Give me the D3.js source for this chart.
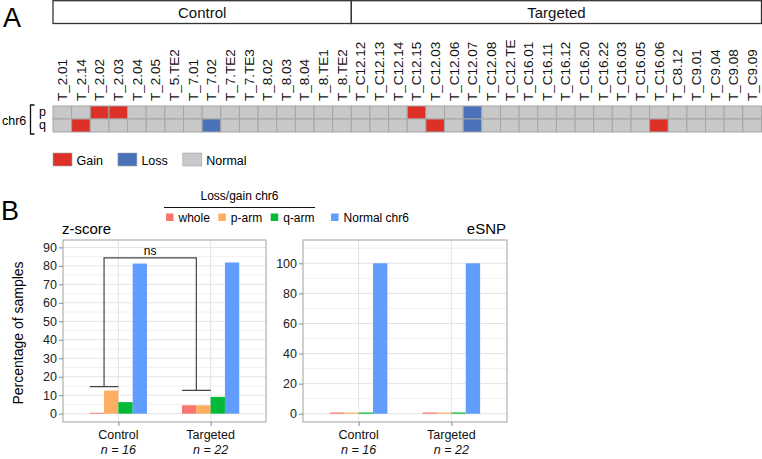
<!DOCTYPE html>
<html>
<head>
<meta charset="utf-8">
<script src="https://cdn.jsdelivr.net/npm/d3@7"></script>
<style>
    body { margin: 0; background: #fff; }
    svg { display: block; font-family: "Liberation Sans", Arial, Helvetica, sans-serif; }
</style>
</head>
<body>
<div id="chart"></div>
<script>
// ---- panel A: chr6 arm status per sample ----
var controlSamples = ["T_2.01", "T_2.14", "T_2.02", "T_2.03", "T_2.04", "T_2.05", "T_5.TE2", "T_7.01",
    "T_7.02", "T_7.TE2", "T_7.TE3", "T_8.02", "T_8.03", "T_8.04", "T_8.TE1", "T_8.TE2"];
var targetedSamples = ["T_C12.12", "T_C12.13", "T_C12.14", "T_C12.15", "T_C12.03", "T_C12.06", "T_C12.07",
    "T_C12.08", "T_C12.TE", "T_C16.01", "T_C16.11", "T_C16.12", "T_C16.20", "T_C16.22", "T_C16.03",
    "T_C16.05", "T_C16.06", "T_C8.12", "T_C9.01", "T_C9.04", "T_C9.08", "T_C9.09"];

// G = gain, L = loss, N = normal
var pControl  = ["N","N","G","G","N","N","N","N","N","N","N","N","N","N","N","N"];
var qControl  = ["N","G","N","N","N","N","N","N","L","N","N","N","N","N","N","N"];
var pTargeted = ["N","N","N","G","N","N","L","N","N","N","N","N","N","N","N","N","N","N","N","N","N","N"];
var qTargeted = ["N","N","N","N","G","N","L","N","N","N","N","N","N","N","N","N","G","N","N","N","N","N"];

var arms = ["p", "q"];
var statusCodes = ["G", "L", "N"];
var statusNames = ["Gain", "Loss", "Normal"];

// ---- panel B: percentage of samples ----
var groups = ["Control", "Targeted"];
var groupN = [16, 22];
var seriesNames = ["whole", "p-arm", "q-arm", "Normal chr6"];
var zscoreControl  = [0.5, 12.5, 6.25, 81.25];
var zscoreTargeted = [4.55, 4.55, 9.09, 81.82];
var esnpControl  = [0.8, 0.8, 0.8, 100];
var esnpTargeted = [0.8, 0.8, 0.8, 100];
var zscoreTicks = [0, 10, 20, 30, 40, 50, 60, 70, 80, 90];
var esnpTicks = [0, 20, 40, 60, 80, 100];
var nsBracket = [84.3, 14.6, 12.6]; // top, control leg end, targeted leg end

var statusColor = {G: "#dd3027", L: "#4a72b9", N: "#c8c8c8"};
var seriesColor = ["#f8766d", "#fdae61", "#00ba38", "#619cff"];

var W = 762, H = 459;
var svg = d3.select("#chart").append("svg")
    .attr("width", W)
    .attr("height", H);

// ================= panel A =================
var samples = controlSamples.concat(targetedSamples);
var pStatus = pControl.concat(pTargeted);
var qStatus = qControl.concat(qTargeted);

var hx = d3.scaleBand().domain(samples).range([53, 761.5]);
var hy = d3.scaleBand().domain(arms).range([106, 132]);

svg.append("text")
    .attr("x", 3).attr("y", 27)
    .style("font-size", "27px")
    .text("A");

// group strips
var strips = [
    {name: "Control", first: controlSamples[0], last: controlSamples[controlSamples.length - 1]},
    {name: "Targeted", first: targetedSamples[0], last: targetedSamples[targetedSamples.length - 1]}
];
var stripG = svg.append("g");
stripG.selectAll("rect")
    .data(strips).enter()
    .append("rect")
    .attr("x", function(d){ return hx(d.first); })
    .attr("y", 0.7)
    .attr("width", function(d){ return hx(d.last) + hx.bandwidth() - hx(d.first); })
    .attr("height", 22.8)
    .attr("fill", "#fff")
    .attr("stroke", "#333")
    .attr("stroke-width", 1.3);
stripG.selectAll("text")
    .data(strips).enter()
    .append("text")
    .attr("x", function(d){ return (hx(d.first) + hx(d.last) + hx.bandwidth()) / 2; })
    .attr("y", 17.5)
    .attr("text-anchor", "middle")
    .style("font-size", "15px")
    .attr("fill", "#111")
    .text(function(d){ return d.name; });

// column labels
svg.append("g")
    .selectAll("text")
    .data(samples).enter()
    .append("text")
    .attr("transform", function(d){ return "translate(" + (hx(d) + hx.bandwidth() / 2) + ",101) rotate(-90)"; })
    .attr("dy", "0.35em")
    .style("font-size", "13.5px")
    .attr("fill", "#111")
    .text(function(d){ return d; });

// cells
var cells = [];
samples.forEach(function(s, i){
    cells.push({sample: s, arm: "p", status: pStatus[i]});
    cells.push({sample: s, arm: "q", status: qStatus[i]});
});
svg.append("g")
    .selectAll("rect")
    .data(cells).enter()
    .append("rect")
    .attr("x", function(d){ return hx(d.sample); })
    .attr("y", function(d){ return hy(d.arm); })
    .attr("width", hx.bandwidth())
    .attr("height", hy.bandwidth())
    .attr("fill", function(d){ return statusColor[d.status]; })
    .attr("stroke", "#a6a6a6")
    .attr("stroke-width", 1);

// row labels
svg.append("text")
    .attr("x", 2).attr("y", 124.5)
    .style("font-size", "12.5px")
    .text("chr6");
svg.append("path")
    .attr("d", "M34.5,105 H30.5 V134 H34.5")
    .attr("fill", "none")
    .attr("stroke", "#111")
    .attr("stroke-width", 1.3);
svg.append("g")
    .selectAll("text")
    .data(arms).enter()
    .append("text")
    .attr("x", 39)
    .attr("y", function(d){ return hy(d) + hy.bandwidth() / 2 + 3; })
    .style("font-size", "12.5px")
    .text(function(d){ return d; });

// legend A
var legA = svg.append("g");
var lx = 53;
statusCodes.forEach(function(c, i){
    legA.append("rect")
        .attr("x", lx).attr("y", 153)
        .attr("width", 19).attr("height", 13)
        .attr("fill", statusColor[c])
        .attr("stroke", "#a6a6a6")
        .attr("stroke-width", 0.6);
    var t = legA.append("text")
        .attr("x", lx + 23.5).attr("y", 164.5)
        .style("font-size", "12.5px")
        .text(statusNames[i]);
    lx += 23.5 + t.node().getComputedTextLength() + 15;
});

// ================= panel B =================
svg.append("text")
    .attr("x", 1).attr("y", 220)
    .style("font-size", "27px")
    .text("B");

// legend B
var legB = svg.append("g");
legB.append("text")
    .attr("x", 239.5).attr("y", 200)
    .attr("text-anchor", "middle")
    .style("font-size", "12px")
    .text("Loss/gain chr6");
legB.append("line")
    .attr("x1", 164).attr("x2", 315)
    .attr("y1", 207.5).attr("y2", 207.5)
    .attr("stroke", "#111")
    .attr("stroke-width", 1);
var bx = 166;
seriesNames.forEach(function(s, i){
    if(i === 3) bx += 8;
    legB.append("rect")
        .attr("x", bx).attr("y", 213.5)
        .attr("width", 7.5).attr("height", 7.5)
        .attr("fill", seriesColor[i]);
    var t = legB.append("text")
        .attr("x", bx + 12.5).attr("y", 221.5)
        .style("font-size", "12px")
        .text(s);
    bx += 12.5 + t.node().getComputedTextLength() + 8.5;
});

svg.append("text")
    .attr("transform", "translate(23,333) rotate(-90)")
    .attr("text-anchor", "middle")
    .style("font-size", "14px")
    .text("Percentage of samples");

function drawPanel(opts){
    var top = 240, bottom = 422;
    var g = svg.append("g");

    var x = d3.scalePoint().domain(groups).range([opts.x0, opts.x1]).padding(0.6);
    var inner = d3.scaleBand().domain(seriesNames)
        .range([-0.31 * x.step(), 0.31 * x.step()]);
    var y = d3.scaleLinear().domain(opts.domain).range([bottom, top]);

    // grid
    g.selectAll("minor")
        .data(opts.minor).enter()
        .append("line")
        .attr("x1", opts.x0).attr("x2", opts.x1)
        .attr("y1", function(d){ return y(d); })
        .attr("y2", function(d){ return y(d); })
        .attr("stroke", "#f1f1f1");
    g.selectAll("major")
        .data(opts.ticks).enter()
        .append("line")
        .attr("x1", opts.x0).attr("x2", opts.x1)
        .attr("y1", function(d){ return y(d); })
        .attr("y2", function(d){ return y(d); })
        .attr("stroke", "#e4e4e4");
    g.selectAll("vmajor")
        .data(groups).enter()
        .append("line")
        .attr("x1", function(d){ return x(d); })
        .attr("x2", function(d){ return x(d); })
        .attr("y1", top).attr("y2", bottom)
        .attr("stroke", "#e4e4e4");

    // bars
    var bars = [];
    groups.forEach(function(gr, gi){
        seriesNames.forEach(function(s, si){
            bars.push({group: gr, series: s, idx: si, value: opts.data[gi][si]});
        });
    });
    g.selectAll("bar")
        .data(bars).enter()
        .append("rect")
        .attr("x", function(d){ return x(d.group) + inner(d.series); })
        .attr("y", function(d){ return y(d.value); })
        .attr("width", inner.bandwidth())
        .attr("height", function(d){ return y(0) - y(d.value); })
        .attr("fill", function(d){ return seriesColor[d.idx]; });

    // significance bracket
    if(opts.bracket){
        var b = opts.bracket;
        var legX = groups.map(function(gr){ return x(gr) + inner(seriesNames[1]); });
        var capL = groups.map(function(gr){ return x(gr) + inner(seriesNames[0]); });
        var capR = groups.map(function(gr){ return x(gr) + inner(seriesNames[1]) + inner.bandwidth(); });
        var path = "M" + legX[0] + "," + y(b[1]) + " V" + y(b[0]) + " H" + legX[1] + " V" + y(b[2]) +
            " M" + capL[0] + "," + y(b[1]) + " H" + capR[0] +
            " M" + capL[1] + "," + y(b[2]) + " H" + capR[1];
        g.append("path")
            .attr("d", path)
            .attr("fill", "none")
            .attr("stroke", "#444")
            .attr("stroke-width", 1.2);
        g.append("text")
            .attr("x", (legX[0] + legX[1]) / 2)
            .attr("y", y(b[0]) - 2.5)
            .attr("text-anchor", "middle")
            .style("font-size", "12px")
            .text("ns");
    }

    // border
    g.append("rect")
        .attr("x", opts.x0).attr("y", top)
        .attr("width", opts.x1 - opts.x0).attr("height", bottom - top)
        .attr("fill", "none")
        .attr("stroke", "#a0a0a0")
        .attr("stroke-width", 1);

    // axes
    var ya = g.append("g")
        .attr("transform", "translate(" + opts.x0 + ",0)")
        .call(d3.axisLeft(y).tickValues(opts.ticks).tickSize(4).tickPadding(2));
    ya.select(".domain").remove();
    ya.selectAll("line").attr("stroke", "#888");
    ya.selectAll("text")
        .attr("fill", "#222")
        .style("font-size", "12.5px")
        .style("font-family", "'Liberation Sans', Arial, sans-serif");

    var xa = g.append("g")
        .attr("transform", "translate(0," + bottom + ")")
        .call(d3.axisBottom(x).tickSize(4).tickFormat(""));
    xa.select(".domain").remove();
    xa.selectAll("line").attr("stroke", "#888");

    g.selectAll("xlab")
        .data(groups).enter()
        .append("text")
        .attr("x", function(d){ return x(d); })
        .attr("y", 438.5)
        .attr("text-anchor", "middle")
        .style("font-size", "12.5px")
        .attr("fill", "#111")
        .text(function(d){ return d; });
    g.selectAll("nlab")
        .data(groups).enter()
        .append("text")
        .attr("x", function(d){ return x(d); })
        .attr("y", 454)
        .attr("text-anchor", "middle")
        .style("font-size", "12.5px")
        .style("font-style", "italic")
        .attr("fill", "#111")
        .text(function(d, i){ return "n = " + groupN[i]; });

    // title
    g.append("text")
        .attr("x", opts.titleAnchor === "end" ? opts.x1 - 1 : opts.x0 - 1)
        .attr("y", 234)
        .attr("text-anchor", opts.titleAnchor)
        .style("font-size", "15px")
        .text(opts.title);
}

drawPanel({
    x0: 63, x1: 266,
    domain: [-4.5, 94],
    ticks: zscoreTicks,
    minor: [5, 15, 25, 35, 45, 55, 65, 75, 85],
    data: [zscoreControl, zscoreTargeted],
    bracket: nsBracket,
    title: "z-score",
    titleAnchor: "start"
});

drawPanel({
    x0: 303, x1: 507,
    domain: [-5.5, 115.5],
    ticks: esnpTicks,
    minor: [10, 30, 50, 70, 90, 110],
    data: [esnpControl, esnpTargeted],
    bracket: null,
    title: "eSNP",
    titleAnchor: "end"
});
</script>
</body>
</html>
